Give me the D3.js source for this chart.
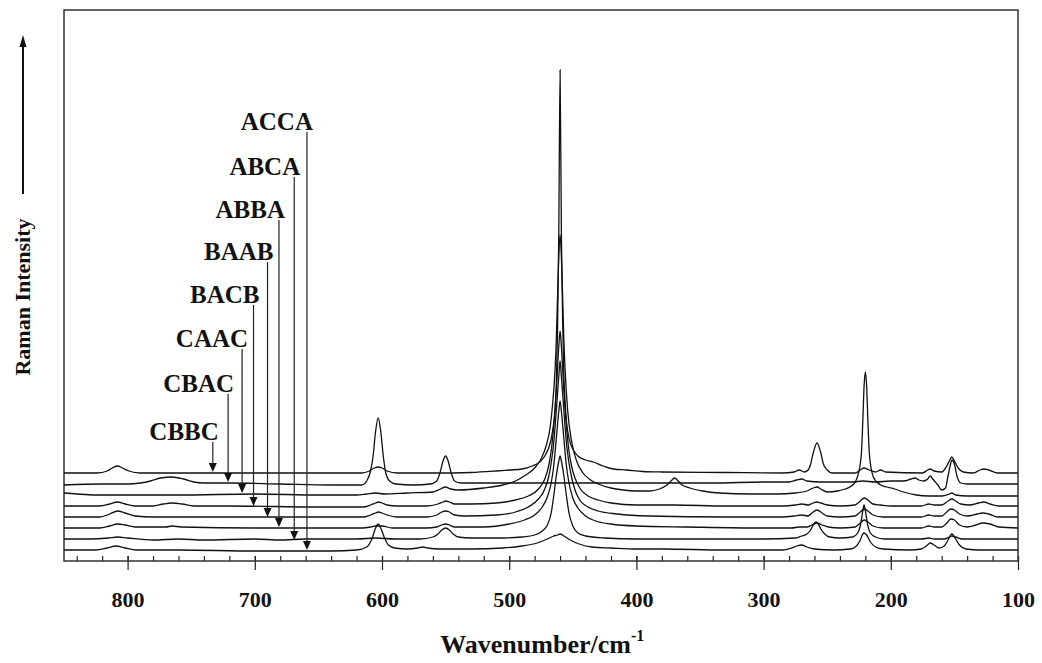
<!DOCTYPE html>
<html>
<head>
<meta charset="utf-8">
<script src="https://cdn.jsdelivr.net/npm/d3@7"></script>
<style>
  body { margin: 0; background: #fff; }
  text { font-family: "Liberation Serif", "Times New Roman", serif; font-weight: bold; fill: #111; }
</style>
</head>
<body>
<div id="chart"></div>
<script>
// sample names, top trace first
var sampleNames = ["CBBC", "CBAC", "CAAC", "BACB", "BAAB", "ABBA", "ABCA", "ACCA"];

// where each arrow lands (wavenumber, intensity) and label height (intensity)
var arrowWn = [733, 721, 710, 701, 690, 681, 669, 659];
var arrowTip = [89, 79, 68, 55, 44, 34, 21, 11];
var labelLevel = [121, 169, 214, 258, 301, 343, 386, 431];

var majorTicks = [800, 700, 600, 500, 400, 300, 200, 100];

// spectra: [wavenumber, intensity (a.u.)]
var specCBBC = [[850,88],[824,88],[816,90],[812,93],[808,95],[804,93],[799,90],[790,88],[700,88],[616,88],[610,90],[606,93],[603,94],[600,93],[596,90],[588,88],[560,88],[530,88.5],[510,90],[500,91],[490,92],[482,95],[476,99],[472,105],[469,113],[467,122],[465,138],[464,150],[463,175],[462,230],[461,330],[460,491],[459,330],[458,240],[457,185],[456,158],[455,140],[453,123],[450,112],[446,105],[440,101],[434,99],[426,95],[418,92],[408,91],[395,89.5],[380,89],[330,88.5],[285,88],[276,89],[272,91],[268,89],[265,91],[263,97],[261,108],[258,118],[255,108],[253,97],[250,91],[246,88],[228,88],[224,91],[221,93],[217,91],[212,89],[208,91],[204,89],[175,88],[171,91],[169,92],[166,90],[160,89],[156,95],[154,100],[152,104],[150,100],[147,93],[143,89],[135,88],[130,91],[127,92],[123,91],[116,88],[100,88]];
var specCBAC = [[850,76],[820,77],[800,77],[790,78],[782,80],[774,83],[765,84],[756,82],[748,79],[740,78],[720,78],[680,77],[640,76],[625,76],[616,76],[612,80],[609,90],[607,105],[605,130],[603,143],[601,130],[599,105],[597,88],[594,80],[589,77],[575,76],[562,77],[557,80],[554,90],[552,100],[550,105],[548,100],[546,90],[543,80],[538,78],[520,78],[480,78],[440,78],[400,78],[380,78],[340,78],[300,79],[280,79],[274,81],[270,82],[266,80],[255,79],[240,79],[230,79],[222,80],[212,79],[200,80],[190,80],[184,82],[181,83],[178,81],[174,80],[171,82],[169,85],[167,82],[163,76],[160,71],[157,73],[155,85],[153,97],[152,101],[150,97],[148,85],[145,78],[140,77],[120,77],[100,77]];
var specCAAC = [[850,68],[840,67],[825,66],[800,66],[760,66],[700,67],[650,66],[620,66],[612,67],[605,68],[598,67],[580,68],[560,69],[554,72],[550,74],[546,72],[540,71],[520,73],[505,76],[495,80],[487,86],[480,93],[475,102],[471,115],[468,132],[466,155],[464,190],[463,220],[462,265],[461,305],[460,326],[459,305],[458,265],[457,220],[456,190],[454,150],[451,120],[447,100],[442,88],[436,81],[430,77],[420,73],[410,71],[400,70],[390,70],[382,72],[376,76],[372,81],[370,83],[368,81],[364,76],[358,73],[348,70],[335,68],[310,67],[290,67],[275,68],[266,70],[261,73],[258,74],[255,72],[250,69],[242,70],[236,72],[231,75],[228,79],[226,85],[224,97],[223,110],[222,140],[221,175],[220,189],[219,175],[218,140],[217,110],[216,97],[214,85],[211,79],[208,76],[203,74],[197,72],[190,69],[180,66],[170,65],[160,65],[154,67],[152,68],[149,66],[140,65],[120,65],[100,65]];
var specBACB = [[850,55],[822,55],[814,57],[808,59],[802,57],[794,55],[780,55],[772,57],[765,58],[757,57],[748,55],[720,55],[650,54],[615,54],[609,56],[605,58],[603,59],[600,58],[596,56],[588,55],[565,55],[556,57],[552,59],[550,60],[547,59],[543,57],[530,57],[510,58],[495,61],[485,65],[477,72],[472,82],[469,95],[467,110],[465,135],[463,170],[461,215],[460,230],[459,215],[457,170],[455,135],[453,110],[451,95],[448,82],[444,72],[438,65],[430,61],[420,58],[400,56],[370,56],[330,55],[285,55],[275,56],[270,57],[265,56],[261,58],[258,59],[255,58],[250,56],[240,55],[228,56],[224,60],[221,63],[218,61],[214,57],[208,56],[200,55],[176,55],[170,57],[166,56],[160,56],[155,60],[152,62],[149,60],[145,57],[138,56],[131,58],[127,59],[122,57],[115,55],[100,55]];
var specBAAB = [[850,44],[822,44],[814,47],[808,50],[802,48],[794,45],[780,44],[700,44],[615,44],[609,46],[605,48],[603,49],[600,48],[596,46],[588,44],[565,44],[557,46],[553,49],[550,50],[547,49],[543,46],[535,45],[510,46],[495,49],[485,54],[477,62],[472,72],[469,84],[467,98],[465,118],[463,150],[461,185],[460,200],[459,185],[457,150],[455,118],[453,98],[451,84],[448,70],[444,60],[438,54],[430,50],[415,47],[390,45],[330,44],[285,44],[276,45],[270,46],[265,45],[262,48],[258,51],[254,48],[250,45],[240,44],[228,45],[224,49],[221,52],[218,50],[214,46],[206,44],[176,44],[170,46],[166,45],[160,45],[156,49],[153,52],[150,51],[146,47],[140,45],[132,47],[128,48],[123,47],[116,44],[100,44]];
var specABBA = [[850,33],[822,33],[814,35],[808,37],[802,36],[794,34],[770,34],[765,35],[758,34],[700,33],[615,33],[609,34],[605,35],[600,35],[592,33],[565,33],[557,34],[553,36],[550,37],[547,36],[543,34],[520,34],[500,37],[488,41],[480,46],[474,54],[470,64],[467,78],[465,95],[463,122],[461,150],[460,160],[459,150],[457,122],[455,95],[453,78],[450,63],[446,53],[440,45],[432,40],[420,37],[400,35],[360,34],[300,33],[278,33],[272,34],[266,34],[262,36],[258,38],[254,36],[249,34],[240,33],[228,34],[224,38],[221,41],[218,39],[214,35],[206,33],[176,33],[170,35],[166,34],[160,34],[156,38],[153,42],[150,41],[146,36],[140,34],[133,36],[128,38],[122,37],[115,34],[100,33]];
var specABCA = [[850,22],[830,22],[815,23],[808,24],[800,23],[780,21],[760,22],[740,21],[700,22],[680,21],[660,22],[620,22],[605,23],[590,22],[570,22],[560,24],[556,27],[553,31],[550,33],[547,31],[544,27],[540,24],[530,23],[505,23],[490,24],[480,26],[474,30],[470,36],[467,48],[465,65],[463,85],[461,100],[460,105],[459,100],[457,85],[455,65],[453,48],[450,35],[446,28],[440,25],[425,23],[400,22],[300,22],[275,23],[270,25],[266,27],[263,31],[261,36],[259,39],[257,37],[255,32],[252,27],[248,24],[240,23],[230,24],[226,28],[224,35],[222,50],[221,56],[220,50],[218,35],[216,28],[212,24],[205,22],[176,22],[170,23],[166,22],[158,22],[154,24],[152,25],[149,24],[144,22],[100,22]];
var specACCA = [[850,11],[825,11],[816,13],[809,15],[802,13],[793,11],[760,11],[700,10],[640,10],[620,11],[612,14],[608,22],[605,33],[603,37],[601,33],[598,23],[595,16],[590,13],[580,12],[572,13],[568,14],[564,13],[555,12],[530,12],[505,13],[490,15],[478,18],[470,22],[465,25],[462,26],[460,27],[457,25],[452,21],[445,17],[435,14],[420,13],[400,12],[380,12],[330,11],[285,11],[278,13],[274,15],[270,16],[266,14],[260,12],[245,11],[232,12],[227,15],[224,21],[222,27],[221,28],[219,26],[216,19],[212,14],[206,12],[185,11],[176,12],[172,15],[169,18],[166,16],[162,13],[158,15],[155,21],[152,27],[149,22],[146,16],[141,12],[130,11],[100,11]];

var spectra = [specCBBC, specCBAC, specCAAC, specBACB, specBAAB, specABBA, specABCA, specACCA];

var margin = {top: 10, right: 24, bottom: 102, left: 64},
    width = 1042 - margin.left - margin.right,
    height = 663 - margin.top - margin.bottom;

var svg = d3.select("#chart")
  .append("svg")
    .attr("width", width + margin.left + margin.right)
    .attr("height", height + margin.top + margin.bottom)
  .append("g")
    .attr("transform", "translate(" + margin.left + "," + margin.top + ")");

var x = d3.scaleLinear()
    .domain([850, 100])
    .range([0, width]);

var y = d3.scaleLinear()
    .domain([0, 551])
    .range([height, 0]);

// minor ticks (inside)
var minor = svg.append("g")
    .attr("transform", "translate(0," + height + ")")
    .call(d3.axisBottom(x).tickValues(d3.range(840, 99, -20)).tickSize(-5).tickFormat(""));
minor.select(".domain").remove();

// major ticks crossing the axis
var major = svg.append("g")
    .attr("transform", "translate(0," + height + ")")
    .call(d3.axisBottom(x).tickValues(majorTicks).tickSize(9).tickFormat(d3.format("d")));
major.select(".domain").remove();
major.selectAll(".tick line").attr("y1", -5);
major.selectAll(".tick text")
    .attr("y", 46)
    .attr("dy", 0)
    .style("font-size", "22px")
    .style("font-family", "'Liberation Serif', serif")
    .style("font-weight", "bold")
    .attr("fill", "#111");
svg.selectAll(".tick line").attr("stroke", "#222").attr("stroke-width", 1.2);

// frame
svg.append("rect")
    .attr("width", width)
    .attr("height", height)
    .attr("fill", "none")
    .attr("stroke", "#333")
    .attr("stroke-width", 1.5);

var line = d3.line()
    .x(function(d) { return x(d[0]); })
    .y(function(d) { return y(d[1]); })
    .curve(d3.curveMonotoneX);

svg.append("g")
  .selectAll("path")
  .data(spectra)
  .enter()
  .append("path")
    .attr("d", line)
    .attr("fill", "none")
    .attr("stroke", "#111")
    .attr("stroke-width", 1.3);

// labels with arrows
var ann = svg.append("g").classed("labels", true);
sampleNames.forEach(function(name, i) {
  var ax = x(arrowWn[i]);
  var ty = y(labelLevel[i]);
  var tip = y(arrowTip[i]);
  ann.append("text")
    .text(name)
    .attr("x", ax + 6)
    .attr("y", ty)
    .attr("text-anchor", "end")
    .style("font-size", "25px");
  ann.append("line")
    .attr("x1", ax).attr("x2", ax)
    .attr("y1", ty + 2).attr("y2", tip - 8)
    .attr("stroke", "#222")
    .attr("stroke-width", 1.2);
  ann.append("path")
    .attr("d", "M" + (ax - 4) + "," + (tip - 9) + "L" + (ax + 4) + "," + (tip - 9) + "L" + ax + "," + tip + "Z")
    .attr("fill", "#111");
});

// axis titles
var labels = d3.select("#chart svg").append("g");
labels.append("text")
    .attr("x", margin.left + x(474))
    .attr("y", 653)
    .attr("text-anchor", "middle")
    .style("font-size", "26px")
    .text("Wavenumber/cm")
  .append("tspan")
    .attr("dy", -12)
    .style("font-size", "16px")
    .text("-1");

labels.append("text")
    .attr("transform", "translate(30,297) rotate(-90)")
    .attr("text-anchor", "middle")
    .style("font-size", "22px")
    .text("Raman Intensity");

labels.append("line")
    .attr("x1", 23).attr("x2", 23)
    .attr("y1", 194).attr("y2", 46)
    .attr("stroke", "#111")
    .attr("stroke-width", 2);
labels.append("path")
    .attr("d", "M19.5,47L26.5,47L23,35Z")
    .attr("fill", "#111");
</script>
</body>
</html>
